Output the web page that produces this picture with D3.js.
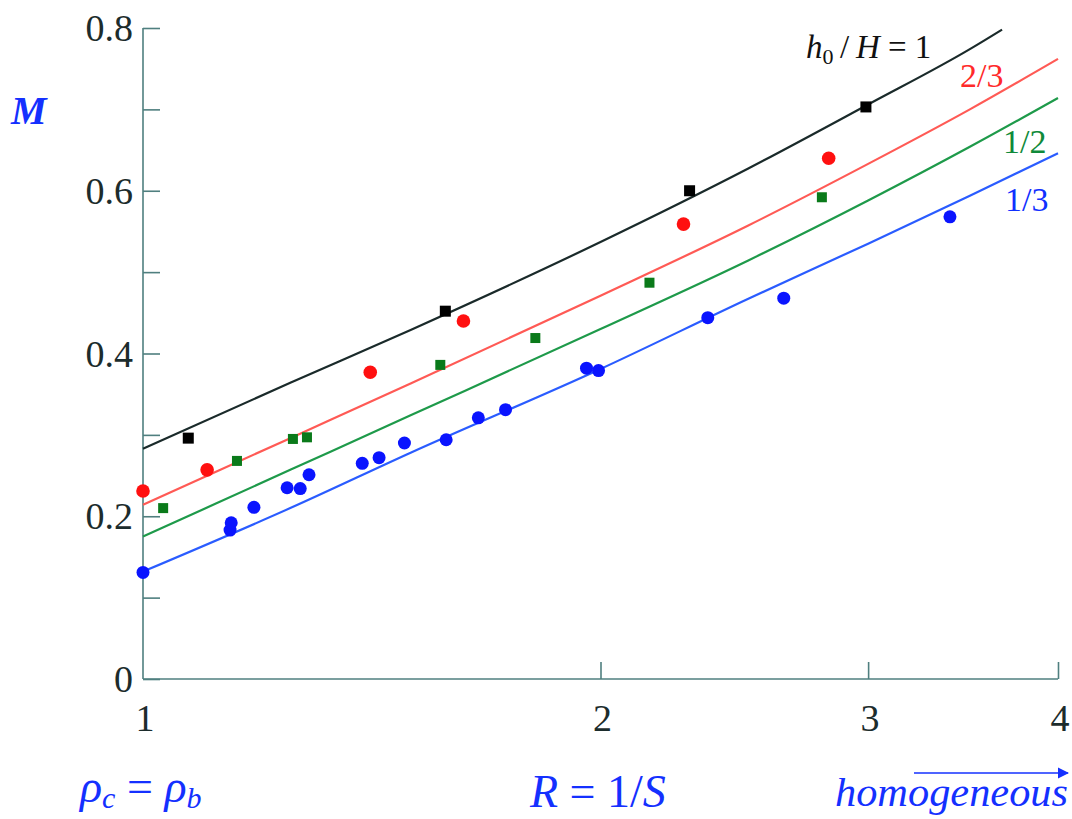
<!DOCTYPE html>
<html lang="en">
	<head>
		<meta charset="utf-8">
		<title>M vs R</title>
		<script src="https://d3js.org/d3.v7.min.js"></script>
		<style>
			body { margin: 0; background: #fff; }
			text { font-family: "Liberation Serif", "DejaVu Serif", serif; }
		</style>
	</head>
	<body>
	<script>

// data: R = 1/S (log axis), M
	var xTicks = [1, 2, 3, 4];
	var yTicks = [0, 0.2, 0.4, 0.6, 0.8];
	var yMinor = [0.1, 0.3, 0.5, 0.7];

	// fitted curves, sampled along R
	var fitR = [1, 1.25, 1.5, 2, 2.5, 3, 3.5, 4];
	var fitRBlack = [1, 1.25, 1.5, 2, 2.5, 3, 3.5, 3.675];
	var fitH1 = [0.283, 0.364, 0.429, 0.537, 0.627, 0.706, 0.774, 0.798];
	var fitH23 = [0.214, 0.296, 0.363, 0.471, 0.557, 0.633, 0.700, 0.762];
	var fitH12 = [0.175, 0.257, 0.324, 0.430, 0.514, 0.588, 0.654, 0.714];
	var fitH13 = [0.132, 0.210, 0.278, 0.381, 0.467, 0.535, 0.594, 0.646];

	// measured points [R, M]
	var ptsH1 = [[1.071, 0.296], [1.581, 0.452], [2.289, 0.600], [2.99, 0.703]];
	var ptsH23 = [[1.0, 0.231], [1.102, 0.257], [1.411, 0.377], [1.625, 0.440], [2.268, 0.559], [2.826, 0.640]];
	var ptsH12 = [[1.031, 0.210], [1.153, 0.268], [1.255, 0.295], [1.282, 0.297], [1.569, 0.386],
		[1.812, 0.419], [2.154, 0.487], [2.797, 0.592]];
	var ptsH13 = [[1.0, 0.131], [1.141, 0.183], [1.143, 0.192], [1.183, 0.211], [1.244, 0.235],
		[1.269, 0.234], [1.286, 0.251], [1.394, 0.265], [1.430, 0.272], [1.486, 0.290],
		[1.583, 0.294], [1.662, 0.321], [1.732, 0.331], [1.958, 0.382], [1.994, 0.379],
		[2.353, 0.444], [2.640, 0.468], [3.396, 0.568]];

	var w = 1072, h = 819;
	var svg = d3.select("body").append("svg")
		.attr("width", w)
		.attr("height", h);

	var x = d3.scaleLog().domain([1, 4]).range([143, 1058]);
	var y = d3.scaleLinear().domain([0, 0.8]).range([679, 28]);

	var axisCol = "#4f7f7f";

	// axes
	var yAxis = d3.axisRight(y).tickValues(yTicks.concat(yMinor)).tickSize(17).tickFormat("");
	svg.append("g").attr("transform", "translate(143,0)").call(yAxis)
		.call(g => g.selectAll("line, path").attr("stroke", axisCol).attr("stroke-width", 1.6))
		.call(g => g.select(".domain").attr("d", "M0," + y(0) + "V" + y(0.8)));

	var xAxis = d3.axisTop(x).tickValues(xTicks.slice(1)).tickSize(17).tickFormat("");
	svg.append("g").attr("transform", "translate(0," + y(0) + ")").call(xAxis)
		.call(g => g.selectAll("line, path").attr("stroke", axisCol).attr("stroke-width", 1.6))
		.call(g => g.select(".domain").attr("d", "M143,0H" + x(4)));

	svg.selectAll(".ylab").data(yTicks).enter().append("text")
		.attr("x", 133).attr("y", d => y(d) + 13)
		.attr("text-anchor", "end").attr("font-size", 38).attr("fill", "#1c2c2c")
		.text(d => d === 0 ? "0" : d3.format(".1f")(d));

	svg.selectAll(".xlab").data(xTicks).enter().append("text")
		.attr("x", d => x(d) + 2).attr("y", 731)
		.attr("text-anchor", "middle").attr("font-size", 38).attr("fill", "#1c2c2c")
		.text(d => d);

	// fitted lines
	var line = d3.line().x(d => x(d[0])).y(d => y(d[1])).curve(d3.curveMonotoneX);
	var fits = [
		{r: fitRBlack, m: fitH1, col: "#1a2a2a"},
		{r: fitR, m: fitH23, col: "#ff5a55"},
		{r: fitR, m: fitH12, col: "#1e9a4a"},
		{r: fitR, m: fitH13, col: "#2a5cff"}
	];
	fits.forEach(f => {
		svg.append("path")
			.datum(f.r.map((r, i) => [r, f.m[i]]))
			.attr("d", line)
			.attr("fill", "none")
			.attr("stroke", f.col)
			.attr("stroke-width", 2.2);
	});

	// markers
	function squares(data, size, col) {
		svg.append("g").selectAll("rect").data(data).enter().append("rect")
			.attr("x", d => x(d[0]) - size / 2)
			.attr("y", d => y(d[1]) - size / 2)
			.attr("width", size).attr("height", size)
			.attr("fill", col);
	}
	function dots(data, r, col) {
		svg.append("g").selectAll("circle").data(data).enter().append("circle")
			.attr("cx", d => x(d[0]))
			.attr("cy", d => y(d[1]))
			.attr("r", r)
			.attr("fill", col);
	}
	squares(ptsH12, 10, "#0a7a1a");
	dots(ptsH23, 6.8, "#ff1010");
	dots(ptsH13, 6.5, "#0a14ff");
	squares(ptsH1, 11, "#000");

	// curve labels
	var lab1 = svg.append("text").attr("x", 806).attr("y", 58).attr("font-size", 33).attr("fill", "#111");
	lab1.append("tspan").attr("font-style", "italic").text("h");
	lab1.append("tspan").attr("font-size", 22).attr("dy", 6).text("0");
	lab1.append("tspan").attr("dy", -6).text("\u2009/\u2009");
	lab1.append("tspan").attr("font-style", "italic").text("H");
	lab1.append("tspan").text(" = 1");

	svg.append("text").attr("x", 960).attr("y", 87).attr("font-size", 34).attr("fill", "#ff2a2a").text("2/3");
	svg.append("text").attr("x", 1003).attr("y", 153).attr("font-size", 34).attr("fill", "#0f8a3a").text("1/2");
	svg.append("text").attr("x", 1005).attr("y", 211).attr("font-size", 34).attr("fill", "#1030ff").text("1/3");

	// axis titles
	var blue = "#1430ff";
	svg.append("text").attr("x", 11).attr("y", 124).attr("font-size", 40)
		.attr("font-style", "italic").attr("font-weight", "bold").attr("fill", blue).text("M");

	var t1 = svg.append("text").attr("x", 80).attr("y", 802).attr("font-size", 46).attr("fill", blue);
	t1.append("tspan").attr("font-style", "italic").text("\u03c1");
	t1.append("tspan").attr("font-size", 30).attr("font-style", "italic").attr("dy", 6).text("c");
	t1.append("tspan").attr("dy", -6).text(" = ");
	t1.append("tspan").attr("font-style", "italic").text("\u03c1");
	t1.append("tspan").attr("font-size", 30).attr("font-style", "italic").attr("dy", 6).text("b");

	var t2 = svg.append("text").attr("x", 530).attr("y", 807).attr("font-size", 46).attr("fill", blue);
	t2.append("tspan").attr("font-style", "italic").text("R");
	t2.append("tspan").text(" = 1/");
	t2.append("tspan").attr("font-style", "italic").text("S");

	svg.append("text").attr("x", 835).attr("y", 806).attr("font-size", 41)
		.attr("font-style", "italic").attr("fill", blue)
		.attr("textLength", 233).attr("lengthAdjust", "spacingAndGlyphs").text("homogeneous");

	svg.append("defs").append("marker")
		.attr("id", "arr").attr("viewBox", "0 0 10 10").attr("refX", 9).attr("refY", 5)
		.attr("markerWidth", 7).attr("markerHeight", 7).attr("orient", "auto")
		.append("path").attr("d", "M0,0L10,5L0,10z").attr("fill", blue);
	svg.append("line").attr("x1", 914).attr("x2", 1068).attr("y1", 773).attr("y2", 773)
		.attr("stroke", blue).attr("stroke-width", 1.6).attr("marker-end", "url(#arr)");

	</script>
	</body>
</html>
